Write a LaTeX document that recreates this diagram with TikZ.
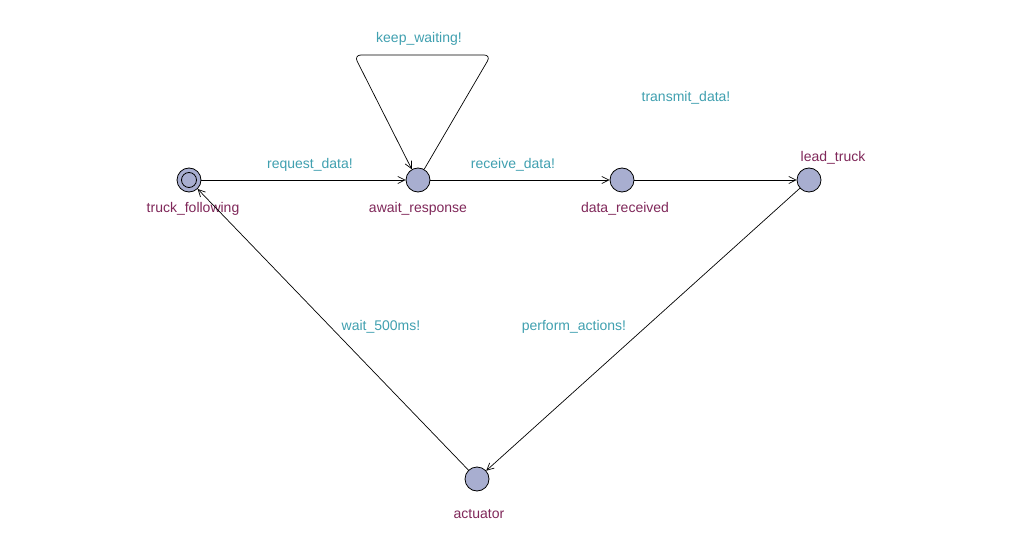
\documentclass[tikz,border=0pt]{standalone}
\usepackage{fontspec}
\setmainfont{Liberation Sans}
\usetikzlibrary{arrows.meta}
\definecolor{lblc}{RGB}{64,160,176}
\definecolor{namec}{RGB}{128,40,90}
\definecolor{locc}{RGB}{168,174,208}
\begin{document}
\begin{tikzpicture}[x=1pt,y=-1pt,
  loc/.style={circle,draw=black,fill=locc,minimum size=24pt,inner sep=0pt,line width=0.8pt},
  lbl/.style={text=lblc,font=\fontsize{14}{16}\selectfont,inner sep=0pt},
  nm/.style={text=namec,font=\fontsize{14}{16}\selectfont,inner sep=0pt},
  edge/.style={draw=black,line width=0.7pt,-{Straight Barb[length=7pt,width=7pt]}}]
\useasboundingbox[fill=white] (0,0) rectangle (1030,548);
\node[loc] (tf) at (189,180) {};
\node[circle,draw=black,minimum size=15pt,inner sep=0pt,line width=0.8pt] (tfin) at (189,180) {};
\node[loc] (ar) at (418,180) {};
\node[loc] (dr) at (622,180) {};
\node[loc] (lt) at (809,180) {};
\node[loc] (ac) at (477,479) {};
\node[nm] (ntf) at (193,209) {truck\_following};
\node[nm] (nar) at (418,209) {await\_response};
\node[nm] (ndr) at (625,209) {data\_received};
\node[nm] (nlt) at (833,158) {lead\_truck};
\node[nm] (nac) at (479,514) {actuator};
\coordinate (c1) at (491,55);
\coordinate (c2) at (354,55);
\draw[edge] (tf) -- (ar);
\draw[edge] (ar) -- (dr);
\draw[edge] (dr) -- (lt);
\draw[edge] (lt) -- (ac);
\draw[edge] (ac) -- (tf);
\draw[edge,rounded corners=7pt] (ar.60) -- (c1) -- (c2) -- (ar.120);
\node[lbl] (l1) at (310,165) {request\_data!};
\node[lbl] (l2) at (513,165) {receive\_data!};
\node[lbl] (l3) at (419,39) {keep\_waiting!};
\node[lbl] (l4) at (686,98) {transmit\_data!};
\node[lbl] (l5) at (381,327) {wait\_500ms!};
\node[lbl] (l6) at (574,327) {perform\_actions!};
\end{tikzpicture}
\end{document}
